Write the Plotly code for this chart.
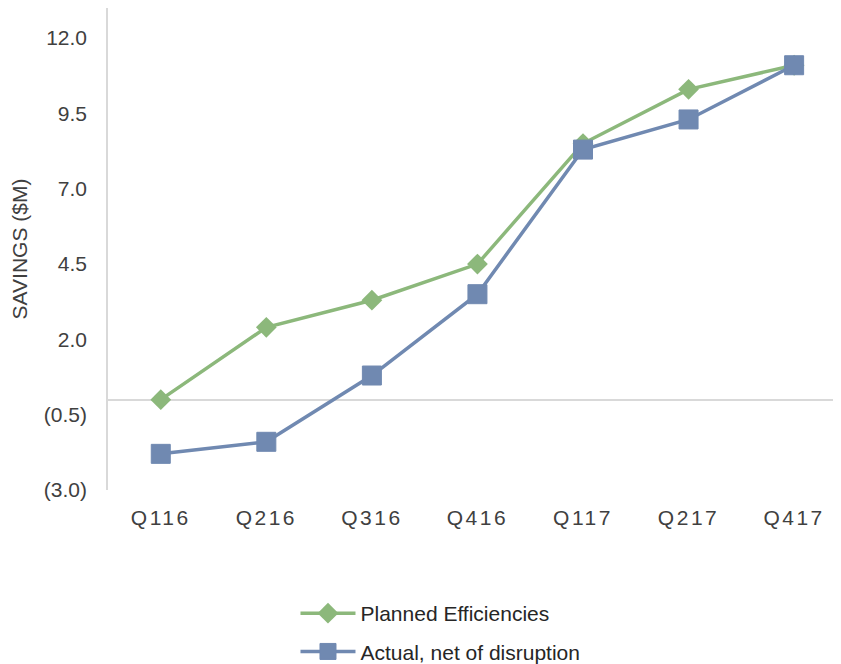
import plotly.graph_objects as go

quarters = ["Q116", "Q216", "Q316", "Q416", "Q117", "Q217", "Q417"]
planned = [0.0, 2.4, 3.3, 4.5, 8.5, 10.3, 11.1]
actual = [-1.8, -1.4, 0.8, 3.5, 8.3, 9.3, 11.1]
tick_vals = [-3.0, -0.5, 2.0, 4.5, 7.0, 9.5, 12.0]
tick_text = ["(3.0)", "(0.5)", "2.0", "4.5", "7.0", "9.5", "12.0"]

green = "#8CB87B"
blue = "#7089B1"

fig = go.Figure()
fig.add_trace(go.Scatter(
    x=quarters, y=planned, name="Planned Efficiencies", mode="lines+markers",
    legendgroup="a",
    line=dict(color=green, width=3.5),
    marker=dict(symbol="diamond", size=16, color=green),
))
fig.add_trace(go.Scatter(
    x=quarters, y=actual, name="Actual, net of disruption", mode="lines+markers",
    legendgroup="b",
    line=dict(color=blue, width=3.5),
    marker=dict(symbol="square", size=19, color=blue, line=dict(color=blue, width=1)),
))

fig.update_layout(
    width=841, height=664,
    margin=dict(l=100, r=0, t=0, b=182),
    paper_bgcolor="white", plot_bgcolor="white",
    font=dict(family="Liberation Sans, Arial, sans-serif", color="#404040", size=21),
    showlegend=True,
    legend=dict(
        orientation="v", x=0.4487, xanchor="center", y=-0.2145, yanchor="top",
        font=dict(size=21, color="#262626"), tracegroupgap=8, itemwidth=55,
    ),
    xaxis=dict(
        range=[-0.5, 6.52], showgrid=False, showline=False, zeroline=False,
        ticks="", ticklabelstandoff=13, tickfont=dict(size=21, color="#404040"),
    ),
    yaxis=dict(
        range=[-3, 13], tickvals=tick_vals, ticktext=tick_text,
        showgrid=False, showline=True, linecolor="#D9D9D9", linewidth=1.5,
        zeroline=True, zerolinecolor="#D9D9D9", zerolinewidth=1.5,
        ticks="", ticklabelstandoff=15, tickfont=dict(size=21, color="#404040"),
        title=dict(text="SAVINGS ($M)", font=dict(size=21, color="#404040"), standoff=17),
    ),
)

post = """
document.querySelectorAll('.xtick text').forEach(function(t){t.style.letterSpacing='2.5px';});
"""
fig.write_html("out.html", post_script=post)
